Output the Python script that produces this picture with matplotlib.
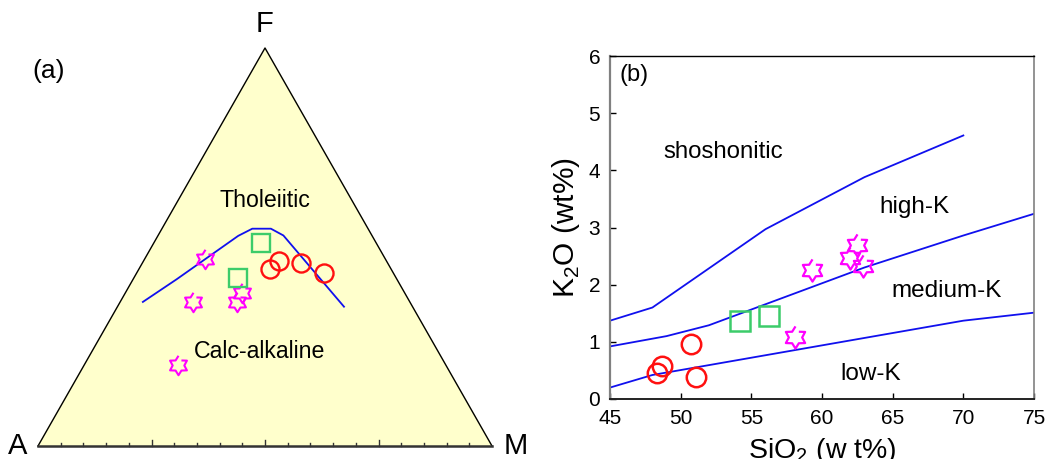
import numpy as np
import matplotlib
matplotlib.use('Agg')
import matplotlib.pyplot as plt

plt.rcParams['font.family'] = ['Liberation Sans', 'DejaVu Sans']
plt.rcParams['mathtext.fontset'] = 'custom'
plt.rcParams['mathtext.rm'] = 'Liberation Sans'

# ---- (a) AFM data, in % (A = 100 - F - M) ----
bound_F = [36.2, 41.9, 52.8, 54.6, 54.6, 52.9, 35.0]
bound_M = [5.0, 9.6, 17.7, 19.9, 24.0, 27.6, 49.9]

afm_star_F = [47.0, 36.1, 38.4, 36.1, 20.4]
afm_star_M = [13.3, 16.0, 25.7, 25.7, 20.6]
afm_sq_F = [51.0, 42.3]
afm_sq_M = [23.6, 22.8]
afm_circ_F = [44.5, 46.5, 45.9, 43.5]
afm_circ_M = [28.9, 29.9, 34.9, 41.3]

# ---- (b) SiO2 vs K2O ----
shosh_x = [45, 48, 56, 63, 70]
shosh_y = [1.37, 1.60, 2.97, 3.88, 4.61]
highk_x = [45, 49, 52, 63, 70, 75]
highk_y = [0.92, 1.10, 1.29, 2.30, 2.86, 3.24]
lowk_x = [45, 48, 70, 75]
lowk_y = [0.20, 0.42, 1.37, 1.51]

circ_si = [48.3, 48.7, 50.75, 51.1]
circ_k = [0.45, 0.58, 0.96, 0.38]
sq_si = [54.2, 56.25]
sq_k = [1.36, 1.45]
star_si = [59.3, 58.1, 61.95, 62.45, 62.9]
star_k = [2.25, 1.08, 2.46, 2.69, 2.33]

RED = '#ff1010'
GREEN = '#3ccc6a'
MAGENTA = '#ff00ff'
BLUE = '#1010ee'

# six-pointed star marker
ang = np.pi / 2 + np.arange(12) * np.pi / 6
rad = np.where(np.arange(12) % 2 == 0, 1.0, 0.6)
hexagram = list(zip(rad * np.cos(ang), rad * np.sin(ang)))


def to_xy(F, M):
    F = np.asarray(F) / 100.0
    M = np.asarray(M) / 100.0
    return M + F / 2, F


fig = plt.figure(figsize=(10.46, 4.59), dpi=100)

# ---------------- panel (a) ----------------
ax1 = fig.add_axes([0, 0, 530 / 1046, 1])
ax1.set_xlim(-38 / 454, 492 / 454)
ax1.set_ylim(-13 / 398, 446 / 398)
ax1.axis('off')

ax1.fill([0, 1, 0.5], [0, 0, 1], color='#ffffcc', zorder=0)
ax1.plot([0, 0.5, 1], [0, 1, 0], color='black', lw=1.0, zorder=1)
ax1.plot([0, 1], [0, 0], color='#333333', lw=1.8, zorder=1)
for i in range(1, 20):
    h = 0.015 if i % 5 == 0 else 0.0075
    ax1.plot([i / 20, i / 20], [0, h], color='#333333', lw=1.0, zorder=1)

bx, by = to_xy(bound_F, bound_M)
ax1.plot(bx, by, color=BLUE, lw=1.3, zorder=2)

x, y = to_xy(afm_star_F, afm_star_M)
ax1.plot(x, y, ls='none', marker=hexagram, ms=14, mfc='none', mec=MAGENTA, mew=1.5, zorder=3)
x, y = to_xy(afm_sq_F, afm_sq_M)
ax1.plot(x, y, ls='none', marker='s', ms=12.5, mfc='none', mec=GREEN, mew=1.7, zorder=3)
x, y = to_xy(afm_circ_F, afm_circ_M)
ax1.plot(x, y, ls='none', marker='o', ms=13, mfc='none', mec=RED, mew=1.7, zorder=3)

ax1.text(0.5, 1.06, 'F', fontsize=21, ha='center', va='center')
ax1.text(-0.044, 0.0, 'A', fontsize=21, ha='center', va='center')
ax1.text(1.025, 0.0, 'M', fontsize=21, ha='left', va='center')
ax1.text(0.024, 0.943, '(a)', fontsize=19, ha='center', va='center')
ax1.text(0.499, 0.601, 'Tholeiitic', fontsize=16.7, ha='center', va='baseline')
ax1.text(0.4875, 0.221, 'Calc-alkaline', fontsize=16.7, ha='center', va='baseline')

# ---------------- panel (b) ----------------
ax2 = fig.add_axes([610 / 1046, 60 / 459, 424 / 1046, 343 / 459])
ax2.plot(shosh_x, shosh_y, color=BLUE, lw=1.3)
ax2.plot(highk_x, highk_y, color=BLUE, lw=1.3)
ax2.plot(lowk_x, lowk_y, color=BLUE, lw=1.3)

ax2.plot(circ_si, circ_k, ls='none', marker='o', ms=14, mfc='none', mec=RED, mew=1.8)
ax2.plot(sq_si, sq_k, ls='none', marker='s', ms=14, mfc='none', mec=GREEN, mew=1.8)
ax2.plot(star_si, star_k, ls='none', marker=hexagram, ms=16, mfc='none', mec=MAGENTA, mew=1.6)

ax2.set_xlim(45, 75)
ax2.set_ylim(0, 6)
ax2.set_xticks(range(45, 80, 5))
ax2.set_yticks(range(0, 7))
ax2.tick_params(direction='in', length=4, width=1, labelsize=15, pad=7)
ax2.spines['top'].set_color('black')
ax2.spines['bottom'].set_color('#222222')
ax2.spines['left'].set_color('#808080')
ax2.spines['right'].set_color('#808080')
ax2.spines['left'].set_linewidth(1.6)
ax2.spines['bottom'].set_linewidth(1.4)
ax2.spines['right'].set_linewidth(1.2)
ax2.spines['top'].set_linewidth(1.0)

ax2.set_xlabel(r'SiO$_\mathregular{2}$ (w t%)', fontsize=20.5, labelpad=6)
ax2.set_ylabel(r'K$_\mathregular{2}$O (wt%)', fontsize=21.5, labelpad=5)

ax2.text(45.65, 5.67, '(b)', fontsize=17, ha='left', va='center')
ax2.text(48.8, 4.21, 'shoshonitic', fontsize=17.3, ha='left', va='baseline')
ax2.text(64.07, 3.26, 'high-K', fontsize=17.5, ha='left', va='baseline')
ax2.text(64.9, 1.78, 'medium-K', fontsize=17.5, ha='left', va='baseline')
ax2.text(61.3, 0.33, 'low-K', fontsize=17.5, ha='left', va='baseline')

fig.savefig('out.png', dpi=100)
